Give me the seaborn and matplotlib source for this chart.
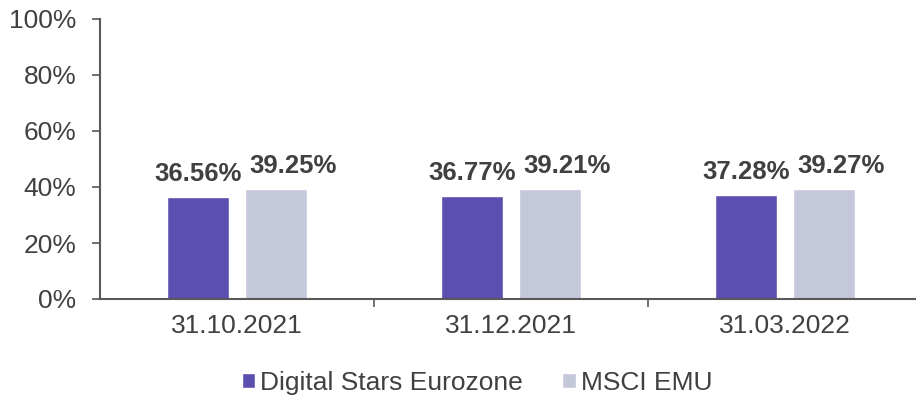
import matplotlib
matplotlib.use("Agg")
import matplotlib.pyplot as plt
import matplotlib.ticker as mticker
import seaborn as sns
import pandas as pd

dates = ["31.10.2021", "31.12.2021", "31.03.2022"]
series_names = ["Digital Stars Eurozone", "MSCI EMU"]
digital_stars = [36.56, 36.77, 37.28]
msci_emu = [39.25, 39.21, 39.27]
colors = ["#5B4FB0", "#C5C8DA"]

df = pd.DataFrame({
    "date": dates * 2,
    "series": [series_names[0]] * 3 + [series_names[1]] * 3,
    "value": digital_stars + msci_emu,
})

sns.set_theme(style="white")
plt.rcParams["font.family"] = ["Liberation Sans", "DejaVu Sans"]
text_color = "#404040"

fig = plt.figure(figsize=(9.16, 4.0), dpi=100)
ax = fig.add_axes([100 / 916, 1 - 299 / 400, 822 / 916, 280 / 400])

sns.barplot(data=df, x="date", y="value", hue="series", order=dates,
            hue_order=series_names, palette=colors, width=0.57, gap=0.21,
            saturation=1, ax=ax, legend=True)

ax.set_ylim(0, 100)
ax.set_xlim(-0.5, 2.5)
ax.set_yticks([0, 20, 40, 60, 80, 100])
ax.yaxis.set_major_formatter(mticker.FuncFormatter(lambda v, p: f"{v:.0f}%"))
ax.set_xlabel("")
ax.set_ylabel("")

label_dx = [0, 12]
for i, c in enumerate(ax.containers):
    for bar in c:
        h = bar.get_height()
        ax.annotate(f"{h:.2f}%", (bar.get_x() + bar.get_width() / 2, h),
                    xytext=(label_dx[i], 8), textcoords="offset points", ha="center",
                    va="bottom", fontsize=18.5, fontweight="bold", color=text_color)

for s in ["top", "right"]:
    ax.spines[s].set_visible(False)
for s in ["left", "bottom"]:
    ax.spines[s].set_color("#595959")
    ax.spines[s].set_linewidth(1.5)

ax.tick_params(axis="y", which="major", direction="out", length=6, width=1.2,
               color="#595959", labelsize=19, labelcolor=text_color, pad=11, left=True)
ax.tick_params(axis="x", which="major", length=0, labelsize=19,
               labelcolor=text_color, pad=11)
ax.set_xticks([0.5, 1.5], minor=True)
ax.tick_params(axis="x", which="minor", direction="out", length=6, width=1.2,
               color="#595959", bottom=True)

ax.get_legend().remove()
handles, labels = ax.get_legend_handles_labels()
fig.legend(handles, labels, loc="center", bbox_to_anchor=(477 / 916, 1 - 383 / 400),
           ncol=2, frameon=False, fontsize=19, handlelength=0.5, handleheight=0.5,
           handletextpad=0.2, columnspacing=1.5, labelcolor=text_color)

fig.savefig("out.png", dpi=100)
